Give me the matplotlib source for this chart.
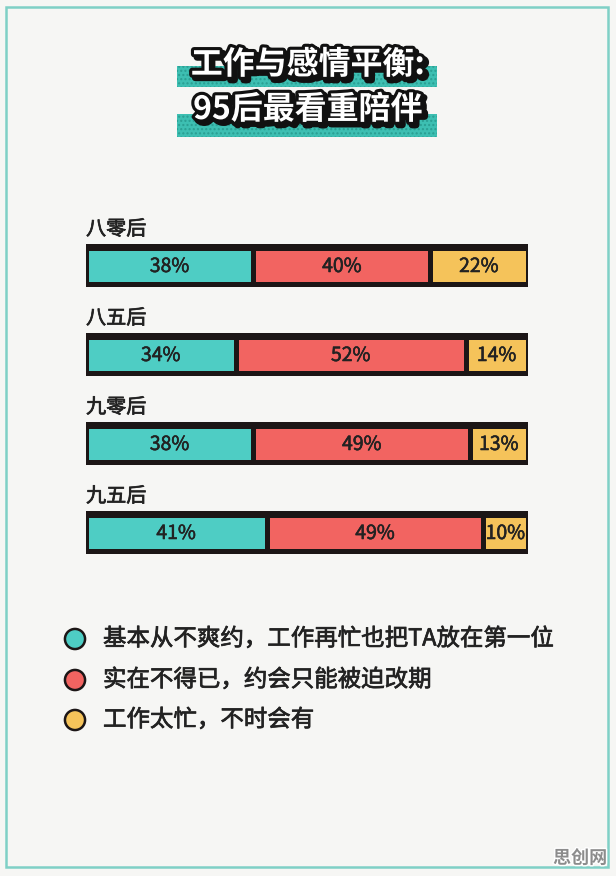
import matplotlib
matplotlib.use("Agg")
import matplotlib.pyplot as plt
import matplotlib.patheffects as pe
from matplotlib.patches import Rectangle
import numpy as np

plt.rcParams['font.family'] = ['Noto Sans CJK SC', 'DejaVu Sans']

# ---------------- data ----------------
title_lines = ["工作与感情平衡:", "95后最看重陪伴"]
categories = ["八零后", "八五后", "九零后", "九五后"]
keep_promise = [38, 34, 38, 41]      # 基本从不爽约
forced_resched = [40, 52, 49, 49]    # 实在不得已
too_busy = [22, 14, 13, 10]          # 工作太忙
legend_labels = ["基本从不爽约，工作再忙也把TA放在第一位",
                 "实在不得已，约会只能被迫改期",
                 "工作太忙，不时会有"]
watermark = "思创网"

colors = ["#4ECDC4", "#F26461", "#F5C35A"]
dark = "#1c1616"
bg = "#F6F6F4"
txt_c = "#222222"
heavy = [pe.Stroke(linewidth=0.5, foreground=txt_c), pe.Normal()]

W, H = 616, 876
fig = plt.figure(figsize=(W / 100, H / 100), dpi=100)
fig.patch.set_facecolor(bg)

# overlay axes in pixel coordinates
ax0 = fig.add_axes([0, 0, 1, 1])
ax0.set_xlim(0, W)
ax0.set_ylim(H, 0)
ax0.axis("off")
ax0.set_facecolor("none")

# card border
ax0.add_patch(Rectangle((6, 7), 602, 860, fill=False, edgecolor="#7FD0C6", linewidth=1.8))

# title bands
for (y0, h) in [(66, 21), (114, 23)]:
    ax0.add_patch(Rectangle((177, y0), 260, h, facecolor="#3DBFB2", edgecolor="none",
                            zorder=1))
    ax0.add_patch(Rectangle((177, y0), 260, h, facecolor="none", edgecolor="#2A9E92",
                            linewidth=0, hatch="....", zorder=1))

title_fx = [pe.Stroke(linewidth=5, foreground="#111111", offset=(2.2, -2.2)),
            pe.Stroke(linewidth=4.5, foreground="#111111"),
            pe.Normal()]
for txt, yc in zip(title_lines, [65, 110]):
    ax0.text(308, yc, txt, ha="center", va="center", fontsize=23, fontweight="bold",
             color="white", path_effects=title_fx, zorder=3)

# ---------------- bars ----------------
row_y = [265.5 + 89 * i for i in range(len(categories))]
x_left, x_w = 85.5, 442.0
axb = fig.add_axes([x_left / W, 0, x_w / W, 1])
axb.set_xlim(0, 100)
axb.set_ylim(H, 0)
axb.axis("off")
axb.set_facecolor("none")

d = 2.5 / x_w * 100
axb.barh(row_y, [100 + 2 * d] * len(row_y), left=-d, height=43, color=dark, zorder=1)

series = [keep_promise, forced_resched, too_busy]
left = np.zeros(len(categories))
lw_pt = 5 * 72 / 100
for vals, c in zip(series, colors):
    vals = np.array(vals, dtype=float)
    axb.barh(row_y, vals, left=left, height=36, color=c, edgecolor=dark,
             linewidth=lw_pt, joinstyle="miter", zorder=2)
    for y, l, v in zip(row_y, left, vals):
        axb.text(l + v / 2, y + 1, f"{int(v)}%", ha="center", va="center",
                 fontsize=14, color=txt_c, zorder=3,
                 path_effects=[pe.Stroke(linewidth=0.4, foreground=txt_c), pe.Normal()])
    left += vals

# category labels
for cat, y in zip(categories, row_y):
    ax0.text(86, y - 36, cat, ha="left", va="center", fontsize=14.5,
             color=txt_c, path_effects=heavy)

# ---------------- legend ----------------
leg_y = [639, 680, 720]
ax0.scatter([75] * 3, leg_y, s=210, c=colors, edgecolors=dark, linewidths=1.8, zorder=3)
for lab, y in zip(legend_labels, leg_y):
    ax0.text(103, y, lab, ha="left", va="center", fontsize=16.9,
             color=txt_c, path_effects=heavy)

# watermark
ax0.text(580, 858, watermark, ha="center", va="center", fontsize=13, fontweight="bold",
         color="#8C8C8C", path_effects=[pe.Stroke(linewidth=2, foreground="white"), pe.Normal()])

fig.savefig("out.png", dpi=100, facecolor=bg)
